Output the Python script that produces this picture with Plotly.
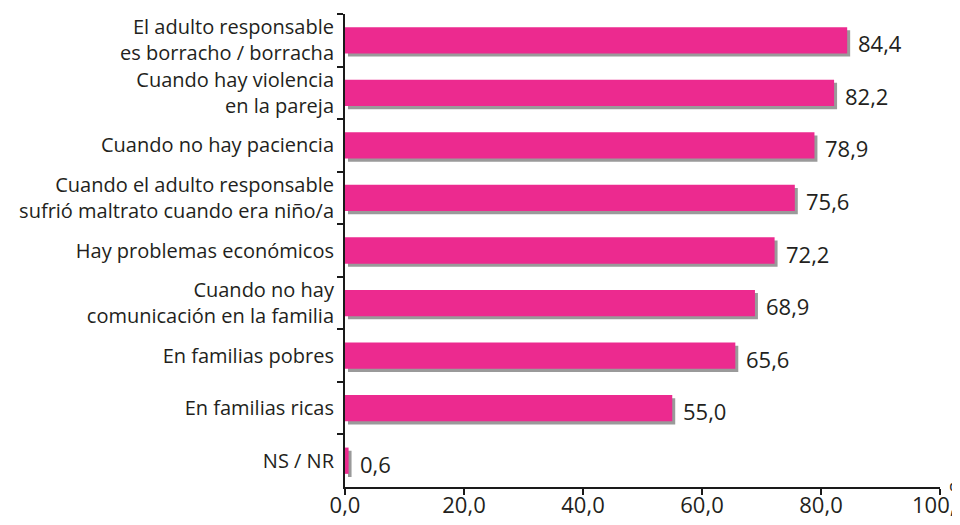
import plotly.graph_objects as go

categories = [
    "El adulto responsable<br>es borracho / borracha",
    "Cuando hay violencia<br>en la pareja",
    "Cuando no hay paciencia",
    "Cuando el adulto responsable<br>sufrió maltrato cuando era niño/a",
    "Hay problemas económicos",
    "Cuando no hay<br>comunicación en la familia",
    "En familias pobres",
    "En familias ricas",
    "NS / NR",
]
values = [84.4, 82.2, 78.9, 75.6, 72.2, 68.9, 65.6, 55.0, 0.6]
x_ticks = [0, 20, 40, 60, 80, 100]
x_ticklabels = ["0,0", "20,0", "40,0", "60,0", "80,0", "100,0"]

labels = [f"{v:.1f}".replace(".", ",") for v in values]

PINK = "#EC2A8F"
SHADOW = "#9A9A9A"
FONT = "Open Sans"
TXT = "#231F20"

fig = go.Figure()
# shadow bars (drawn first)
fig.add_trace(go.Bar(
    y=categories, x=values, base=0.5, orientation="h",
    marker=dict(color=SHADOW, line=dict(width=0)),
    width=0.5, offset=-0.19, hoverinfo="skip", showlegend=False,
))
fig.add_trace(go.Bar(
    y=categories, x=values, orientation="h",
    marker=dict(color=PINK, line=dict(width=0)),
    width=0.5, offset=-0.25, showlegend=False,
))

for cat, v, lab in zip(categories, values, labels):
    fig.add_annotation(
        x=v, y=cat, text=lab, xanchor="left", yanchor="middle",
        xshift=9, yshift=-3, showarrow=False,
        font=dict(family=FONT, size=22, color=TXT),
    )

fig.add_annotation(
    text="%", xref="paper", yref="paper", x=1, y=0, xanchor="left",
    yanchor="middle", xshift=7, yshift=-2, showarrow=False,
    font=dict(family=FONT, size=20, color=TXT),
)

# page body has an 8px margin: figure sized/offset to compensate
fig.update_layout(
    width=944, height=509,
    margin=dict(l=337, r=12, t=6, b=30),
    barmode="overlay",
    plot_bgcolor="white", paper_bgcolor="white",
    font=dict(family=FONT, color=TXT),
    xaxis=dict(
        range=[0, 100], tickvals=x_ticks, ticktext=x_ticklabels,
        showgrid=False, zeroline=False, automargin=False,
        ticklabeloverflow="allow", ticklabelstandoff=-8,
        showline=True, linecolor="#1a1a1a", linewidth=2,
        ticks="outside", ticklen=6, tickwidth=2, tickcolor="#1a1a1a",
        tickfont=dict(family=FONT, size=22, color=TXT),
    ),
    yaxis=dict(
        autorange="reversed", showgrid=False, zeroline=False, automargin=False,
        showline=True, linecolor="#1a1a1a", linewidth=2,
        ticks="outside", ticklen=6, tickwidth=2, tickcolor="#1a1a1a",
        tickson="boundaries", ticklabelstandoff=5,
        tickfont=dict(family=FONT, size=20, color=TXT),
    ),
)

fig.write_html("out.html")
